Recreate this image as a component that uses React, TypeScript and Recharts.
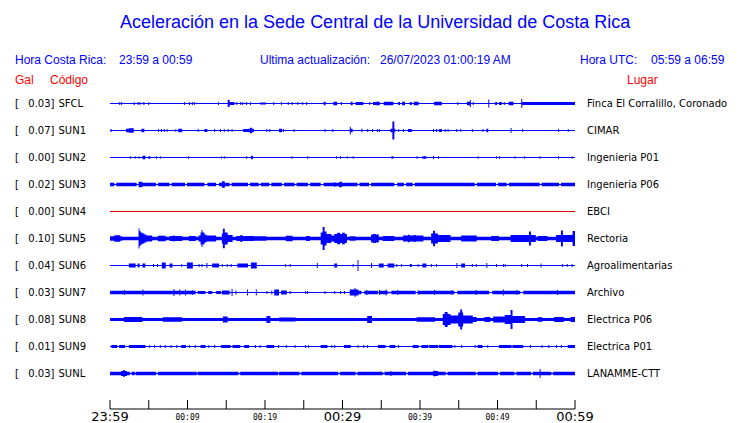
import React from 'react';
import { ComposedChart, Area, XAxis, YAxis } from 'recharts';

type Seg = [number, number, number];

// station list, top to bottom
const CODES = ['SFCL', 'SUN1', 'SUN2', 'SUN3', 'SUN4', 'SUN5', 'SUN6', 'SUN7', 'SUN8', 'SUN9', 'SUNL'];
const GAL = ['0.03', '0.07', '0.00', '0.02', '0.00', '0.10', '0.04', '0.03', '0.08', '0.01', '0.03'];
const PLACES = [
  'Finca El Corralillo, Coronado', 'CIMAR', 'Ingenieria P01', 'Ingenieria P06', 'EBCI', 'Rectoria',
  'Agroalimentarias', 'Archivo', 'Electrica P06', 'Electrica P01', 'LANAMME-CTT',
];
// background noise half-amplitude of each trace
const NOISE = [0.5, 0.5, 0.5, 1.8, 0.5, 1.7, 0.5, 0.5, 1.6, 0.5, 1.7];

// [from minute, to minute, half amplitude]; later entries win
const SFCL_EV: Seg[] = [
  [1.2, 1.2, 1.5], [1.55, 1.55, 1.5], [3.14, 3.14, 1.5], [3.66, 3.66, 1.5], [3.91, 3.91, 1.5], [4.43, 4.43, 1.5],
  [4.95, 4.95, 1.5], [9.59, 9.59, 1.5], [10.28, 10.28, 1.5], [10.58, 10.58, 1.5], [10.88, 10.88, 1.5],
  [13.98, 13.98, 1.5], [15.2, 15.5, 3.5], [15.5, 16.0, 1.6], [16.34, 16.34, 1.5], [16.86, 16.86, 1.5],
  [17.12, 17.12, 1.5], [17.63, 17.63, 1.5], [18.15, 18.15, 1.5], [19.48, 19.48, 1.5], [19.74, 19.74, 1.5],
  [20.04, 20.04, 1.5], [21.08, 21.08, 1.5], [22.15, 22.15, 1.5], [22.97, 22.97, 1.5], [23.53, 23.53, 1.5],
  [24.3, 24.3, 1.5], [24.82, 24.82, 1.5], [25.33, 25.33, 1.5], [27.6, 27.8, 1.7], [28.9, 29.2, 1.7], [29.9, 29.9, 1.5],
  [31.1, 31.3, 1.7], [31.8, 32.1, 1.5], [32.3, 32.6, 1.5], [33.5, 33.5, 1.5], [34.0, 34.2, 1.5], [34.4, 34.75, 1.7],
  [35.35, 36.56, 1.7], [37.25, 37.4, 1.5], [37.7, 38.0, 1.7], [38.7, 38.9, 1.5], [39.3, 39.8, 1.7], [41.9, 42.8, 1.7],
  [44.9, 44.9, 1.5], [46.1, 46.4, 1.7], [46.5, 46.5, 3.5], [46.9, 46.9, 1.5], [48.9, 48.9, 4], [49.7, 49.9, 1.5],
  [50.3, 50.5, 1.5], [50.9, 50.9, 1.5], [51.5, 52.0, 1.7], [53.1, 53.2, 4.5], [53.3, 60, 1.6],
];
const SUN1_EV: Seg[] = [
  [0.13, 0.13, 1.5], [2.15, 2.37, 1.7], [2.54, 2.97, 2.2], [4.1, 4.4, 1.7], [6.24, 6.24, 1.5], [6.58, 6.58, 1.5],
  [7.0, 7.0, 1.5], [7.35, 7.35, 1.5], [8.5, 8.5, 1.5], [8.9, 9.25, 1.7], [11.4, 11.4, 1.5], [12.3, 12.5, 1.5],
  [13.5, 13.5, 1.5], [14.3, 14.3, 1.5], [14.75, 14.75, 1.5], [15.3, 15.3, 1.5], [15.7, 15.7, 1.5],
  [17.3, 17.8, 1.5], [17.9, 18.45, 1.8], [18.1, 18.2, 2.8], [20.3, 20.3, 1.5], [20.6, 20.6, 1.5],
  [21.85, 22.15, 1.7], [22.37, 22.37, 1.5], [23.8, 23.8, 1.5], [27.7, 27.7, 1.5], [28.8, 28.8, 1.5],
  [31.0, 31.3, 1.7], [31.0, 31.0, 3.7], [32.5, 32.5, 2], [33.2, 33.2, 1.5], [33.9, 33.9, 1.5], [34.5, 34.5, 1.5],
  [34.75, 34.75, 1.5], [36.3, 36.8, 1.7], [36.55, 36.6, 9], [37.2, 37.2, 1.5], [37.9, 37.9, 1.5], [38.5, 38.9, 1.5],
  [41.8, 41.8, 1.5], [42.1, 42.1, 1.5], [42.5, 42.8, 1.5], [43.2, 43.2, 1.5], [43.6, 43.6, 1.5], [44.7, 44.7, 1.5],
  [45.2, 45.3, 1.5], [46.7, 46.7, 1.5], [48.1, 48.1, 1.5], [48.6, 48.8, 1.7], [51.7, 51.7, 2.5], [53.2, 53.2, 1.5],
  [57.85, 57.85, 1.5], [59.1, 59.1, 1.5],
];
const SUN2_EV: Seg[] = [
  [2.6, 2.6, 1.3], [3.27, 3.27, 1.3], [3.8, 3.8, 1.3], [4.3, 4.5, 1.8], [4.95, 5.1, 1.3], [6.06, 6.06, 1.3],
  [6.5, 6.5, 1.3], [10.1, 10.1, 1.3], [14.4, 14.4, 1.3], [14.75, 14.75, 1.3], [17.6, 17.6, 1.3], [18.2, 18.4, 1.8],
  [23.5, 23.5, 1.3], [25.5, 25.5, 1.3], [29.2, 29.2, 1.3], [29.7, 29.7, 1.3], [30.6, 30.6, 1.3], [31.4, 31.4, 1.3],
  [36.35, 36.35, 1.3], [36.55, 36.55, 1.3], [39.6, 39.6, 1.3], [40.4, 40.7, 1.3], [41.7, 41.7, 1.8], [42.4, 42.4, 1.3],
  [47.5, 47.5, 1.3], [49.85, 49.85, 1.3], [50.2, 50.2, 1.3], [52.3, 52.3, 1.3], [53.5, 53.5, 1.3], [55.5, 55.5, 1.3],
  [57.85, 57.85, 1.3], [59.6, 59.6, 1.3],
];
const SUN3_EV: Seg[] = [
  [0.65, 0.8, 0.5], [3.5, 3.65, 0.5], [6.0, 6.15, 0.5], [7.7, 7.85, 0.5], [9.7, 9.85, 0.5], [12.3, 12.45, 0.5],
  [13.8, 13.95, 0.5], [15.5, 15.65, 0.5], [17.85, 18.0, 0.5], [19.2, 19.35, 0.5], [20.6, 20.75, 0.5], [22.2, 22.35, 0.5],
  [23.9, 24.05, 0.5], [25.6, 25.75, 0.5], [27.3, 27.45, 0.5], [32.0, 32.15, 0.5], [33.5, 33.65, 0.5], [36.8, 36.95, 0.5],
  [38.0, 38.15, 0.5], [39.1, 39.25, 0.5], [47.1, 47.25, 0.5], [49.9, 50.05, 0.5], [51.2, 51.35, 0.5], [55.5, 55.65, 0.5],
  [58.0, 58.15, 0.5],
  [3.8, 4.1, 2.8], [14.55, 14.7, 3.3], [29.0, 29.0, 2.5], [29.6, 29.9, 2.5], [29.7, 29.7, 3],
];
const SUN4_EV: Seg[] = [];
const SUN5_EV: Seg[] = [
  [0, 1.5, 2.3], [0.6, 1.3, 3.2],
  [3.7, 3.85, 10], [3.85, 4.0, 7.5], [4.0, 4.2, 6], [4.2, 4.45, 5], [4.45, 4.75, 4], [4.75, 5.4, 3],
  [6.2, 7.1, 2.8], [7.7, 9.2, 2.5], [8.2, 8.3, 3.2], [10.3, 10.97, 2.5],
  [11.55, 11.75, 3], [11.75, 11.9, 6], [11.9, 12.05, 8.5], [12.05, 12.2, 6], [12.2, 12.45, 4], [12.45, 13.6, 3],
  [14.55, 14.65, 5], [14.65, 14.85, 9.8], [14.85, 15.2, 6], [15.2, 15.7, 3.5],
  [16.4, 18.5, 2.6], [16.9, 17.0, 3.5], [18.6, 20.1, 2.2], [22.8, 23.5, 2.8], [25.4, 25.8, 2.5],
  [27.3, 27.5, 6], [27.5, 27.7, 11.5], [27.7, 28.0, 7], [28.0, 28.6, 4.5], [28.6, 29.0, 3],
  [29.0, 30.5, 4.5], [29.4, 29.6, 5.8], [30.0, 30.2, 5.8],
  [31.0, 31.6, 2.3], [33.8, 34.6, 4], [34.0, 34.2, 4.5], [35.3, 36.6, 2.5], [37.9, 40.4, 3], [38.5, 38.6, 3.8],
  [39.3, 39.4, 3.5], [41.5, 41.8, 5], [41.8, 42.05, 7.8], [42.05, 42.4, 5], [42.4, 43.9, 3.5], [45.4, 47.3, 3],
  [49.25, 50.1, 2.5], [51.8, 54.9, 3.5], [54.1, 54.3, 7], [55.3, 56.4, 2.5], [57.6, 60, 3.5], [58.2, 58.4, 8],
  [59.7, 60, 7.5],
];
const SUN6_EV: Seg[] = [
  [2.45, 2.7, 2], [2.8, 3.3, 2], [3.6, 3.8, 2], [4.2, 4.5, 2], [5.6, 5.6, 1.5], [6.1, 6.1, 1.5], [6.7, 7.1, 3],
  [7.75, 7.95, 2], [9.25, 9.25, 1.5], [10.0, 10.6, 3], [11.55, 11.55, 1.5], [11.9, 11.9, 1.5], [12.55, 12.55, 2.5],
  [13.2, 14.0, 2], [14.5, 14.5, 1.5], [15.1, 15.1, 1.5], [15.6, 15.6, 1.5], [16.5, 17.1, 2], [17.3, 17.7, 2],
  [18.3, 18.9, 3], [22.6, 22.6, 1.5], [23.3, 23.3, 1.5], [26.7, 26.7, 2.5], [29.0, 29.3, 2],
  [31.4, 31.4, 1.5], [32.0, 32.0, 5.5], [33.8, 33.8, 2.5], [34.75, 35.3, 2], [35.9, 36.6, 2], [37.0, 37.0, 1.5],
  [37.6, 37.6, 1.5], [38.7, 38.7, 1.5], [38.9, 38.9, 1.5], [39.7, 39.7, 1.5], [40.4, 40.7, 2], [41.5, 41.5, 1.5],
  [42.1, 42.1, 1.5], [44.8, 44.8, 2.5], [45.4, 45.8, 2], [46.7, 46.7, 1.5], [47.2, 47.2, 1.5], [48.6, 48.6, 2.5],
  [49.9, 49.9, 1.5], [50.7, 50.7, 1.5], [51.0, 51.0, 1.5], [53.1, 53.1, 1.5], [53.9, 53.9, 1.5], [55.6, 55.6, 2],
  [58.4, 58.4, 1.5], [59.0, 59.0, 1.5], [59.6, 59.6, 1.5],
];
const SUN7_EV: Seg[] = [
  [0, 11, 1.8], [1.9, 1.9, 2.5], [4.2, 4.2, 3], [8.3, 8.3, 3.5], [9.0, 9.0, 3], [9.8, 9.8, 3], [10.6, 10.6, 2.5],
  [11.4, 12.3, 1.5], [12.7, 13.1, 1.5], [13.8, 14.2, 1.5], [14.5, 15.4, 2], [15.8, 15.8, 3.5], [16.3, 16.3, 2],
  [17.7, 17.7, 3], [18.9, 18.9, 3], [20.2, 20.2, 1.5], [20.9, 20.9, 2], [21.3, 21.7, 3], [22.1, 22.8, 2],
  [23.2, 23.2, 1.5], [25.2, 25.2, 1.5], [25.5, 25.5, 1.5], [27.7, 27.7, 1.5], [29.0, 29.0, 1.5], [29.7, 29.7, 1.5],
  [30.2, 30.2, 1.5], [31.0, 32.1, 3], [31.6, 31.6, 4.5], [32.1, 60, 1.8],
  [32.5, 32.7, 0.5], [34.6, 34.8, 0.5], [35.9, 36.3, 0.8], [39.5, 39.7, 0.5], [44.5, 44.7, 0.5], [49.0, 49.2, 0.5],
  [53.0, 53.2, 0.5],
  [33.1, 33.1, 2.5], [34.8, 34.8, 2.5], [35.6, 35.6, 3], [37.1, 37.1, 2.5], [39.8, 39.8, 2.3], [41.9, 41.9, 2.5],
  [44.1, 44.1, 2.5], [47.3, 47.3, 2.5], [50.7, 50.7, 3], [52.5, 52.5, 2.5], [57.8, 57.8, 2.5],
];
const SUN8_EV: Seg[] = [
  [1.9, 4.1, 2.4], [6.9, 9.25, 2.2], [14.6, 15.1, 3], [20.2, 20.6, 3.5], [21.9, 23.9, 2.1], [33.3, 33.8, 3.5],
  [39.6, 41.9, 2.2], [43.0, 43.9, 5.5], [43.3, 43.5, 7.5], [44.0, 45.0, 4], [45.0, 45.6, 7], [45.2, 45.35, 10],
  [45.6, 46.9, 4], [46.9, 47.3, 2.5], [48.4, 49.0, 2.4], [49.5, 51.0, 3], [51.0, 51.7, 4.5], [51.8, 52.0, 9.5],
  [52.0, 53.5, 3.5], [55.3, 55.7, 2.2], [57.4, 58.5, 2.4], [59.5, 60, 2.4],
];
const SUN9_EV: Seg[] = [
  [0.2, 0.86, 1.5], [1.3, 1.9, 1.5], [2.45, 3.44, 1.5], [3.66, 4.5, 1.5], [5.16, 5.16, 1.5], [5.8, 5.8, 1.5],
  [6.45, 6.45, 1.5], [7.1, 7.1, 1.5], [7.87, 7.87, 1.5], [8.6, 8.6, 1.5], [9.25, 9.7, 1.5], [10.3, 10.3, 1.5],
  [10.97, 10.97, 1.5], [11.8, 12.25, 1.5], [12.7, 12.7, 1.5], [13.5, 13.5, 1.5], [14.4, 15.5, 1.5], [15.9, 16.8, 1.5],
  [17.4, 17.85, 1.5], [18.7, 18.7, 1.5], [19.35, 19.35, 1.5], [20.2, 21.1, 1.5], [21.7, 21.7, 1.5], [22.8, 22.8, 1.5],
  [23.9, 23.9, 1.5], [25.2, 25.2, 1.5], [25.6, 25.6, 1.5], [27.3, 28.0, 1.5], [28.6, 28.6, 1.5], [29.0, 29.0, 1.5],
  [30.3, 31.0, 1.5], [32.0, 32.0, 1.5], [32.7, 32.7, 1.5], [33.3, 33.3, 1.5], [34.6, 35.5, 1.5], [36.1, 36.8, 1.5],
  [37.2, 37.2, 1.5], [39.1, 39.8, 1.5], [40.2, 41.0, 1.5], [41.2, 42.3, 1.5], [42.5, 44.1, 1.5], [44.5, 44.5, 1.5],
  [45.4, 45.4, 1.5], [47.1, 47.1, 1.5], [47.5, 48.0, 1.5], [48.8, 48.8, 1.5], [50.3, 51.8, 1.5], [52.0, 53.3, 1.5],
  [54.2, 54.2, 1.5], [55.7, 55.7, 1.5], [56.6, 56.6, 1.5], [57.6, 57.6, 1.5], [58.3, 58.3, 1.5], [59.1, 60, 1.5],
];
const SUNL_EV: Seg[] = [
  [2.6, 2.7, 0.7], [3.2, 3.3, 0.7], [6.0, 6.1, 0.7], [11.2, 11.3, 0.7], [16.6, 16.7, 0.7], [21.7, 21.8, 0.7],
  [24.5, 24.6, 0.7], [29.5, 29.6, 0.7], [31.8, 31.9, 0.7], [35.3, 35.4, 0.7], [38.3, 38.4, 0.7], [43.4, 43.5, 0.7],
  [47.3, 47.4, 0.7], [50.1, 50.2, 0.7], [52.3, 52.4, 0.7], [54.4, 54.5, 0.7], [57.0, 57.1, 0.7],
  [1.5, 2.15, 2.5], [1.8, 1.9, 3.2], [36.3, 36.3, 2.5], [41.7, 42.2, 2.5], [41.9, 41.9, 3], [55.5, 55.5, 4.5],
];
const EVENTS = [SFCL_EV, SUN1_EV, SUN2_EV, SUN3_EV, SUN4_EV, SUN5_EV, SUN6_EV, SUN7_EV, SUN8_EV, SUN9_EV, SUNL_EV];

// time axis (minutes after 23:59)
const TICK_MIN = [0, 5, 10, 15, 20, 25, 30, 35, 40, 45, 50, 55, 60];
const TICK_TEXT = ['23:59', '', '00:09', '', '00:19', '', '00:29', '', '00:39', '', '00:49', '', '00:59'];
const BIG_TICKS = ['23:59', '00:29', '00:59'];

const STEP = 0.125;
const ROW = 27;
const BLUE = '#0000ff';
const RED = '#ff0000';
const TRACE_COLORS = CODES.map((c) => (c === 'SUN4' ? '#dd0000' : BLUE));

const baselines = CODES.map((_, i) => ROW * (i + 0.5));
const times = Array.from({ length: 60 / STEP + 1 }, (_, k) => k * STEP);

const envelope = (noise: number, segs: Seg[]) =>
  times.map((t) => {
    let a = noise;
    segs.forEach(([a0, a1, amp]) => {
      if (t >= a0 - STEP / 2 && t <= a1 + STEP / 2) a = amp;
    });
    return a;
  });

const amps = EVENTS.map((segs, i) => envelope(NOISE[i], segs));

const data = times.map((t, k) => {
  const row: any = { t };
  CODES.forEach((_, i) => {
    row['s' + i] = [baselines[i] - amps[i][k], baselines[i] + amps[i][k]];
  });
  return row;
});

const labelFont = 'DejaVu Sans, sans-serif';

// station labels on both sides of a trace
const StationTick = (props: any) => {
  const i = baselines.indexOf(props.payload.value);
  return (
    <g fontFamily={labelFont} fontSize={10} fill="#000">
      <text x={15} y={props.y} dy="0.36em">[</text>
      <text x={54.5} y={props.y} dy="0.36em" textAnchor="end">{GAL[i]}]</text>
      <text x={58.5} y={props.y} dy="0.36em">{CODES[i]}</text>
      <text x={587} y={props.y} dy="0.36em">{PLACES[i]}</text>
    </g>
  );
};

const TimeTick = (props: any) => {
  const idx = TICK_MIN.indexOf(props.payload.value);
  const label = TICK_TEXT[idx];
  const big = BIG_TICKS.includes(label);
  return (
    <g>
      <line x1={props.x} x2={props.x} y1={props.y - 9} y2={props.y} stroke="#000" strokeWidth={1} />
      {label && (
        <text
          x={props.x}
          y={props.y + (big ? 12 : 11)}
          textAnchor="middle"
          fontFamily={big ? labelFont : 'DejaVu Sans Mono, monospace'}
          fontSize={big ? 13 : 8}
          fill="#000"
        >
          {label}
        </text>
      )}
    </g>
  );
};

const headerStyle: React.CSSProperties = {
  position: 'absolute',
  fontFamily: 'Liberation Sans, Arial, sans-serif',
  whiteSpace: 'pre',
  lineHeight: 1,
};

export default function App() {
  return (
    <div style={{ position: 'absolute', left: 0, top: 0, width: 740, height: 423, background: '#fff', overflow: 'hidden' }}>
      <div style={{ ...headerStyle, left: 120, top: 13, fontSize: 18, color: BLUE }}>
        Aceleración en la Sede Central de la Universidad de Costa Rica
      </div>
      <div style={{ ...headerStyle, left: 15, top: 54, fontSize: 12, color: BLUE }}>Hora Costa Rica:</div>
      <div style={{ ...headerStyle, left: 119, top: 54, fontSize: 12, color: BLUE }}>23:59 a 00:59</div>
      <div style={{ ...headerStyle, left: 260, top: 54, fontSize: 12, color: BLUE }}>Ultima actualización:</div>
      <div style={{ ...headerStyle, left: 380, top: 54, fontSize: 12, color: BLUE }}>26/07/2023 01:00:19 AM</div>
      <div style={{ ...headerStyle, left: 580, top: 54, fontSize: 12, color: BLUE }}>Hora UTC:</div>
      <div style={{ ...headerStyle, left: 651, top: 54, fontSize: 12, color: BLUE }}>05:59 a 06:59</div>
      <div style={{ ...headerStyle, left: 15, top: 74, fontSize: 12, color: RED }}>Gal</div>
      <div style={{ ...headerStyle, left: 50, top: 74, fontSize: 12, color: RED }}>Código</div>
      <div style={{ ...headerStyle, left: 627, top: 74, fontSize: 12, color: RED }}>Lugar</div>
      <div style={{ position: 'absolute', left: 0, top: 0 }}>
        <ComposedChart width={740} height={423} data={data} margin={{ top: 90, right: 165, bottom: 0, left: 10 }}>
          <XAxis
            dataKey="t"
            type="number"
            domain={[0, 60]}
            ticks={TICK_MIN}
            interval={0}
            height={14}
            tickSize={0}
            tickMargin={0}
            tickLine={false}
            axisLine={{ stroke: '#000', strokeWidth: 1 }}
            tick={<TimeTick />}
          />
          <YAxis
            type="number"
            reversed
            domain={[0, 319]}
            ticks={baselines}
            interval={0}
            width={100}
            axisLine={false}
            tickLine={false}
            tick={<StationTick />}
          />
          {CODES.map((c, i) => (
            <Area
              key={c}
              type="step"
              dataKey={'s' + i}
              stroke="none"
              fill={TRACE_COLORS[i]}
              fillOpacity={1}
              isAnimationActive={false}
              dot={false}
              activeDot={false}
            />
          ))}
        </ComposedChart>
      </div>
    </div>
  );
}
